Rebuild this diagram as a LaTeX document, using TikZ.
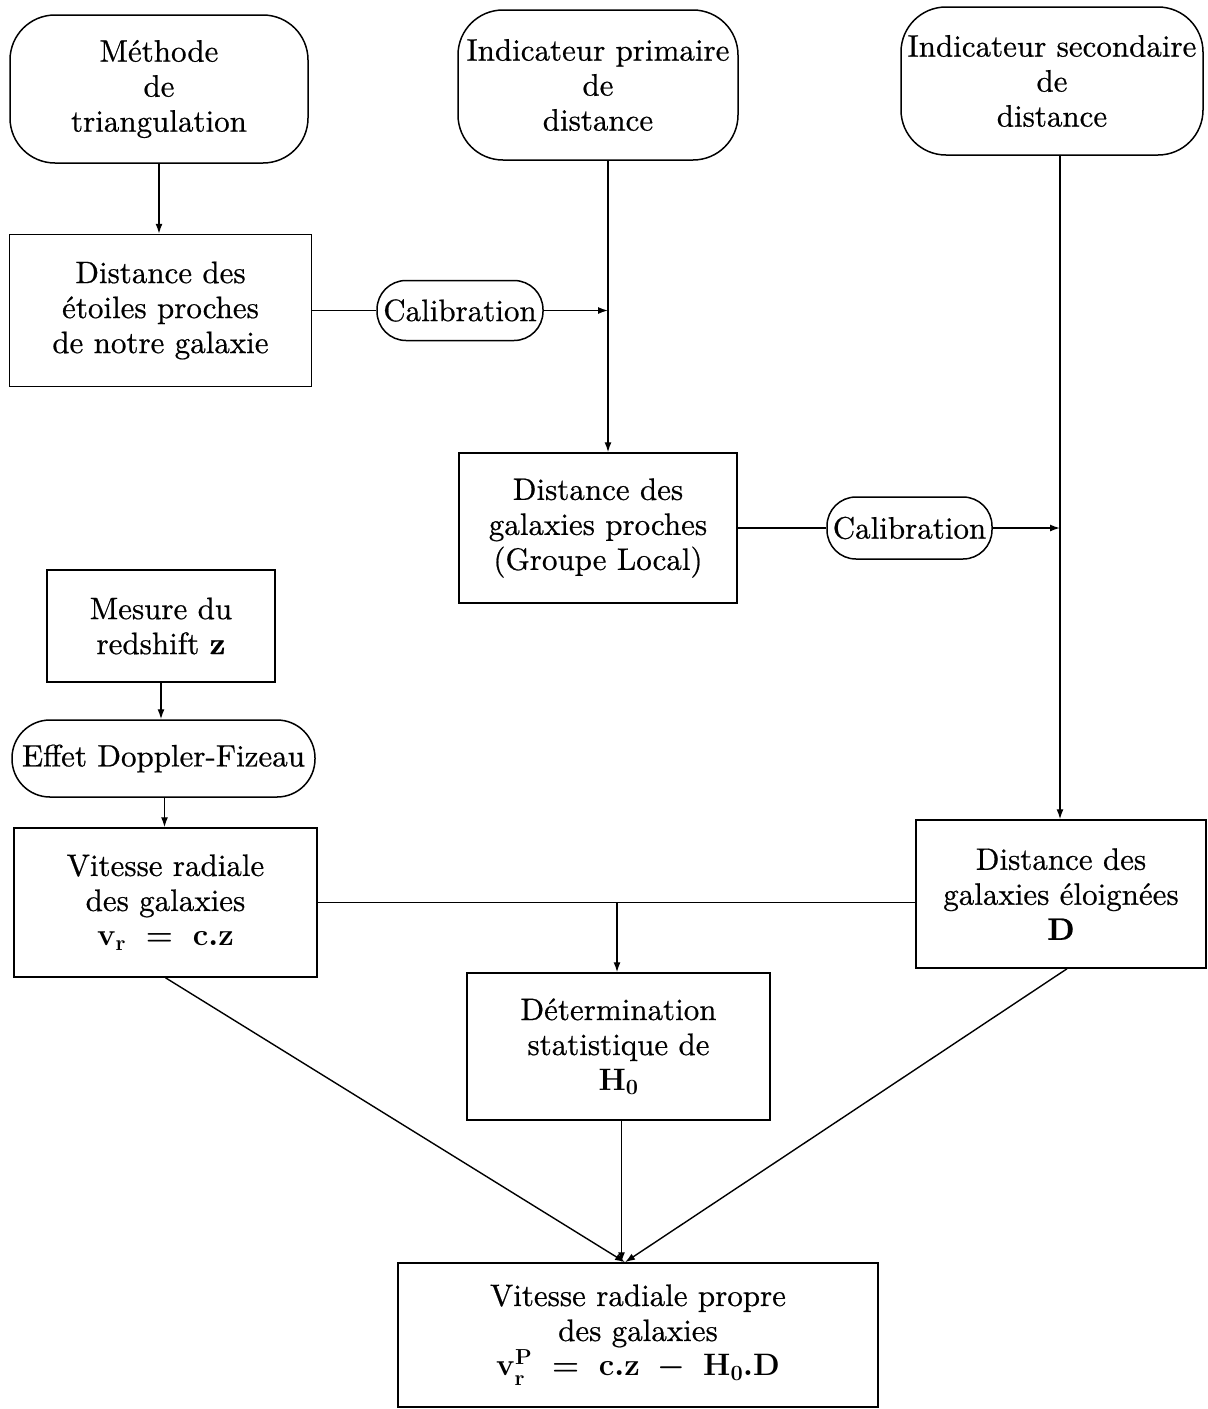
\RequirePackage{fix-cm}
\documentclass[tikz,border=0pt]{standalone}
\usepackage{fontspec}
\setmainfont{lmroman10-regular.otf}[BoldFont=lmroman10-bold.otf, FakeBold=0.6]
\usetikzlibrary{arrows.meta}
\begin{document}
\begin{tikzpicture}[x=1pt,y=-1pt,
  box/.style={draw, line width=1.5pt, align=center, inner sep=0pt,
    font=\fontsize{31}{35}\selectfont},
  rbox/.style={box, rounded corners=45pt},
  pill/.style={box, rounded corners=29pt},
  conn/.style={line width=1.4pt},
  arr/.style={conn, -{Latex[length=10pt,width=7pt]}}]
\useasboundingbox (0,0) rectangle (1208,1409);

% top rounded boxes
\node[rbox, minimum width=298pt, minimum height=148pt] (met) at (159,89)
  {Méthode\\de\\triangulation};
\node[rbox, minimum width=280pt, minimum height=150pt] (ip) at (598,85)
  {Indicateur primaire\\de\\distance};
\node[rbox, minimum width=302pt, minimum height=148pt] (is) at (1052,81)
  {Indicateur secondaire\\de\\distance};

% distance boxes
\node[box, minimum width=302pt, minimum height=152pt] (de) at (160.5,310.5)
  {Distance des\\étoiles proches\\de notre galaxie};
\node[pill, minimum width=166pt, minimum height=60pt] (cal1) at (460,310.5)
  {Calibration};
\node[box, minimum width=278pt, minimum height=150pt] (gp) at (598,528)
  {Distance des\\galaxies proches\\(Groupe Local)};
\node[pill, minimum width=165pt, minimum height=62pt] (cal2) at (909.5,528)
  {Calibration};
\node[box, minimum width=290pt, minimum height=148pt] (ge) at (1061,894)
  {Distance des\\galaxies éloignées\\$\mathbf{D}$};

% left column
\node[box, minimum width=228pt, minimum height=112pt] (mr) at (161,626)
  {Mesure du\\redshift $\mathbf{z}$};
\node[box, rounded corners=38pt, minimum width=303pt, minimum height=77pt] (ef) at (163.5,758.5)
  {Effet Doppler-Fizeau};
\node[box, minimum width=303pt, minimum height=149pt] (vr) at (165.5,902.5)
  {Vitesse radiale\\des galaxies\\{\boldmath$\mathbf{v_r\;=\;c.z}$}};

% bottom
\node[box, minimum width=303pt, minimum height=147pt] (dh) at (618.5,1046.5)
  {Détermination\\statistique de\\{\boldmath$\mathbf{H_0}$}};
\node[box, minimum width=480pt, minimum height=144pt] (vp) at (638,1335)
  {Vitesse radiale propre\\des galaxies\\{\boldmath$\mathbf{v_r^P\;=\;c.z\;-\;H_0.D}$}};

% junction coordinates
\coordinate (j1) at (608,310.5);
\coordinate (j2) at (1060,528);
\coordinate (j3) at (617,902.5);
\coordinate (vt) at ([xshift=-13pt]vp.north);

% connectors
\draw[arr] (met.south) -- (met.south |- de.north);
\draw[conn] (de.east) -- (cal1.west);
\draw[arr] (cal1.east) -- (j1);
\draw[arr] (ip.south -| j1) -- (gp.north -| j1);
\draw[conn] (gp.east) -- (cal2.west);
\draw[arr] (cal2.east) -- (j2);
\draw[arr] (is.south -| j2) -- (ge.north -| j2);
\draw[arr] (mr.south) -- (mr.south |- ef.north);
\draw[arr] ([xshift=1pt]ef.south) -- ([xshift=1pt]ef.south |- vr.north);
\draw[conn] (vr.east) -- (vr.east -| ge.west);
\draw[arr] (j3) -- (dh.north -| j3);
\draw[arr] ([xshift=3pt]dh.south) -- ([xshift=3pt]dh.south |- vt);
\draw[arr] (vr.south) -- (vt);
\draw[arr] ([xshift=6pt]ge.south) -- (vt);
\end{tikzpicture}
\end{document}
